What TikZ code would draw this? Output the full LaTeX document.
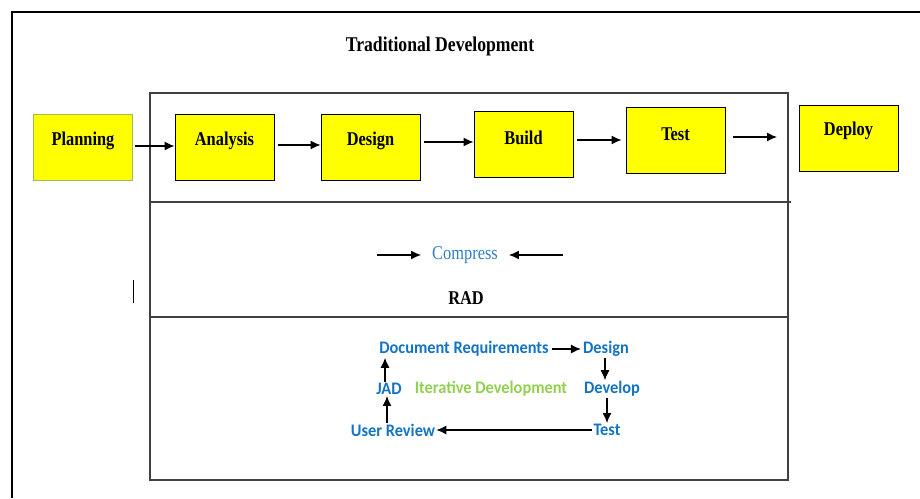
\documentclass[tikz,border=0pt]{standalone}
\usepackage{fontspec}
\setmainfont{Liberation Serif}
\newfontfamily\tnrfont[FakeStretch=0.84]{Liberation Serif}
\newfontfamily\carlitofont[FakeStretch=0.93]{Carlito}
\usetikzlibrary{arrows.meta,calc}
\definecolor{boxyellow}{HTML}{FFFF00}
\definecolor{radblue}{HTML}{2F7EC6}
\definecolor{sansblue}{HTML}{1474C4}
\definecolor{itgreen}{HTML}{92D050}
\definecolor{plangreen}{HTML}{9BBB59}
\definecolor{framegray}{HTML}{404040}
\tikzset{
  stagebox/.style={draw=black, line width=0.9pt, fill=boxyellow, minimum width=99pt, minimum height=66pt, inner sep=0pt},
  stagetext/.style={font=\tnrfont\fontsize{19.5}{22}\selectfont\bfseries, inner sep=0pt},
  arr/.style={line width=1.3pt, -{Latex[length=10pt,width=9pt]}},
  rtext/.style={font=\carlitofont\fontsize{17.6}{20}\selectfont\bfseries, text=sansblue, inner sep=1pt},
}
\begin{document}
\begin{tikzpicture}[x=1pt,y=-1pt]
\useasboundingbox (0,0) rectangle (920,498);
% outer frame (open to the right and bottom)
\draw[line width=2.6pt] (12,498) -- (12,12) -- (920,12);
% inner frame
\draw[line width=1.1pt, draw=framegray] (150,93) rectangle (788,480);
\draw[line width=1.1pt, draw=framegray] (150,202) -- (791,202);
\draw[line width=1.1pt, draw=framegray] (150,317) -- (788,317);
\draw[line width=1pt] (133,280) -- (133,303);
% title
\node[font=\tnrfont\fontsize{21}{24}\selectfont\bfseries, inner sep=0pt] (title) at (440,46) {Traditional Development};
% stages
\node[stagebox, draw=plangreen] (plan) at (83,147) {};
\node[stagebox] (ana) at (224.5,147) {};
\node[stagebox] (des) at (370.5,147) {};
\node[stagebox] (bld) at (523.5,144) {};
\node[stagebox] (tst) at (675.5,140) {};
\node[stagebox] (dep) at (848.5,138) {};
\node[stagetext] (tplan) at ([yshift=6pt]plan.center) {Planning};
\node[stagetext] (tana) at ([yshift=6pt]ana.center) {Analysis};
\node[stagetext] (tdes) at ([yshift=6pt]des.center) {Design};
\node[stagetext] (tbld) at ([yshift=6pt]bld.center) {Build};
\node[stagetext] (ttst) at ([yshift=6pt]tst.center) {Test};
\node[stagetext] (tdep) at ([yshift=7pt]dep.center) {Deploy};
\coordinate (free) at (777,137);
\draw[arr] ([xshift=2pt]plan.east |- 0,146) -- (ana.west |- 0,146);
\draw[arr] ([xshift=4pt]ana.east |- 0,145) -- (des.west |- 0,145);
\draw[arr] ([xshift=4pt]des.east |- 0,142) -- (bld.west |- 0,142);
\draw[arr] ([xshift=4pt]bld.east |- 0,140) -- ([xshift=-4pt]tst.west |- 0,140);
\draw[arr] ([xshift=8pt]tst.east |- free) -- (free);
% RAD compress
\node[font=\tnrfont\fontsize{19.5}{22}\selectfont, text=radblue, inner sep=0pt] (comp) at (465,255) {Compress};
\coordinate (cl) at (377,255);
\coordinate (cr) at (563,255);
\draw[arr] (cl) -- ([xshift=-11pt]comp.west);
\draw[arr] (cr) -- ([xshift=11pt]comp.east);
\node[stagetext] (rad) at (466,298) {RAD};
% iterative cycle
\node[rtext] (dr) at (464,349) {Document Requirements};
\node[rtext] (rdes) at (606,349) {Design};
\node[rtext] (jad) at (389,389) {JAD};
\node[rtext, text=itgreen] (itd) at (491,389) {Iterative Development};
\node[rtext] (dev) at (612,389) {Develop};
\node[rtext] (ur) at (393,430) {User Review};
\node[rtext] (rtst) at (607,430) {Test};
\draw[arr] ([xshift=2pt]dr.east) -- ([xshift=-1pt]rdes.west);
\draw[arr] (rdes.south -| 605,0) -- (dev.north -| 605,0);
\draw[arr] (dev.south -| 607,0) -- (rtst.north -| 607,0);
\draw[arr] (rtst.west) -- (ur.east);
\draw[arr] (ur.north -| 387,0) -- (jad.south -| 387,0);
\draw[arr] (jad.north -| 385,0) -- (dr.south -| 385,0);
\end{tikzpicture}
\end{document}
